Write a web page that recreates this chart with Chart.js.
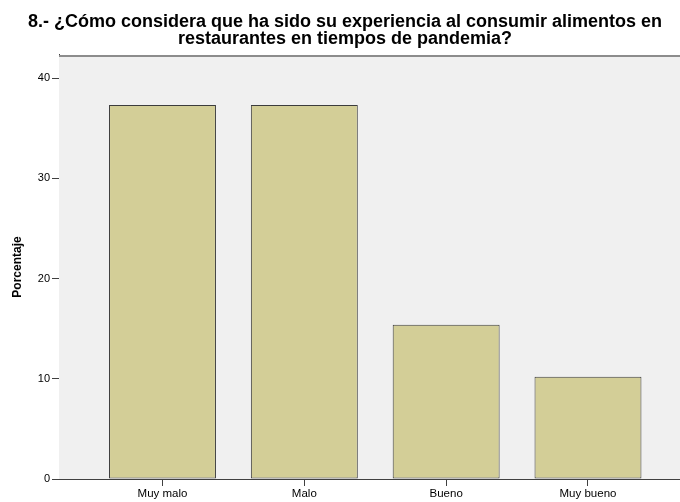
<!DOCTYPE html>
<html lang="es">
<head>
    <meta charset="UTF-8">
    <title>Experiencia en restaurantes</title>
    <script src="https://cdn.jsdelivr.net/npm/chart.js"></script>
    <style>
        body { margin: 0; background: #ffffff; }
        #wrap { width: 680px; height: 502px; }
    </style>
</head>
<body>
<div id="wrap"><canvas id="expChart"></canvas></div>
<script>
    // Data
    const categories = ['Muy malo', 'Malo', 'Bueno', 'Muy bueno'];
    const percentages = [37.3, 37.3, 15.4, 10.2];
    const yTicks = [0, 10, 20, 30, 40];
    const titleLines = [
        '8.- ¿Cómo considera que ha sido su experiencia al consumir alimentos en',
        'restaurantes en tiempos de pandemia?'
    ];

    // grey plot background with a top rule, like the SPSS output
    const plotFrame = {
        id: 'plotFrame',
        beforeDatasetsDraw(chart) {
            const { ctx, chartArea: a } = chart;
            ctx.save();
            ctx.fillStyle = '#f0f0f0';
            ctx.fillRect(a.left, a.top, a.right - a.left, a.bottom - a.top);
            ctx.strokeStyle = '#8c8c8c';
            ctx.lineWidth = 2;
            ctx.beginPath();
            ctx.moveTo(a.left, a.top + 1);
            ctx.lineTo(a.right, a.top + 1);
            ctx.stroke();
            ctx.restore();
        }
    };

    const ctx = document.getElementById('expChart').getContext('2d');
    new Chart(ctx, {
        type: 'bar',
        data: {
            datasets: [{
                label: 'Porcentaje',
                data: categories.map((c, i) => ({ x: i, y: percentages[i] })),
                backgroundColor: '#d3ce97',
                borderColor: '#3c3c3c',
                borderWidth: 1,
                borderSkipped: false,
                categoryPercentage: 1,
                barPercentage: 0.754
            }]
        },
        plugins: [plotFrame],
        options: {
            responsive: true,
            maintainAspectRatio: false,
            animation: false,
            layout: { padding: { left: 10, right: 0, top: 0, bottom: 0 } },
            plugins: {
                legend: { display: false },
                tooltip: { enabled: false },
                title: {
                    display: true,
                    text: titleLines,
                    color: '#000000',
                    font: { family: 'Liberation Sans, Arial', size: 18, weight: 'bold', lineHeight: 0.944 },
                    padding: { top: 13.5, bottom: 7.5 }
                }
            },
            scales: {
                x: {
                    type: 'linear',
                    offset: false,
                    min: -0.7297,
                    max: 3.6487,
                    afterBuildTicks(scale) {
                        scale.ticks = categories.map((c, i) => ({ value: i }));
                    },
                    afterFit(scale) { scale.height = 23; },
                    grid: {
                        offset: false,
                        drawOnChartArea: false,
                        drawTicks: true,
                        tickLength: 7,
                        tickColor: '#404040'
                    },
                    border: { display: true, color: '#404040', width: 1 },
                    ticks: {
                        autoSkip: false,
                        maxRotation: 0,
                        padding: 1,
                        color: '#000000',
                        font: { family: 'Liberation Sans, Arial', size: 11.5 },
                        callback: (v) => categories[v]
                    }
                },
                y: {
                    min: 0,
                    max: 42.3,
                    afterBuildTicks(scale) {
                        scale.ticks = yTicks.map(v => ({ value: v }));
                    },
                    afterFit(scale) { scale.width = 49; },
                    grid: {
                        drawOnChartArea: false,
                        drawTicks: true,
                        tickLength: 7,
                        tickColor: '#404040'
                    },
                    border: { display: true, color: '#404040', width: 1 },
                    ticks: {
                        padding: 2,
                        color: '#000000',
                        font: { family: 'Liberation Sans, Arial', size: 11 }
                    },
                    title: {
                        display: true,
                        text: 'Porcentaje',
                        color: '#000000',
                        padding: { top: 0, bottom: 0 },
                        font: { family: 'Liberation Sans, Arial', size: 12, weight: 'bold' }
                    }
                }
            }
        }
    });
</script>
</body>
</html>
